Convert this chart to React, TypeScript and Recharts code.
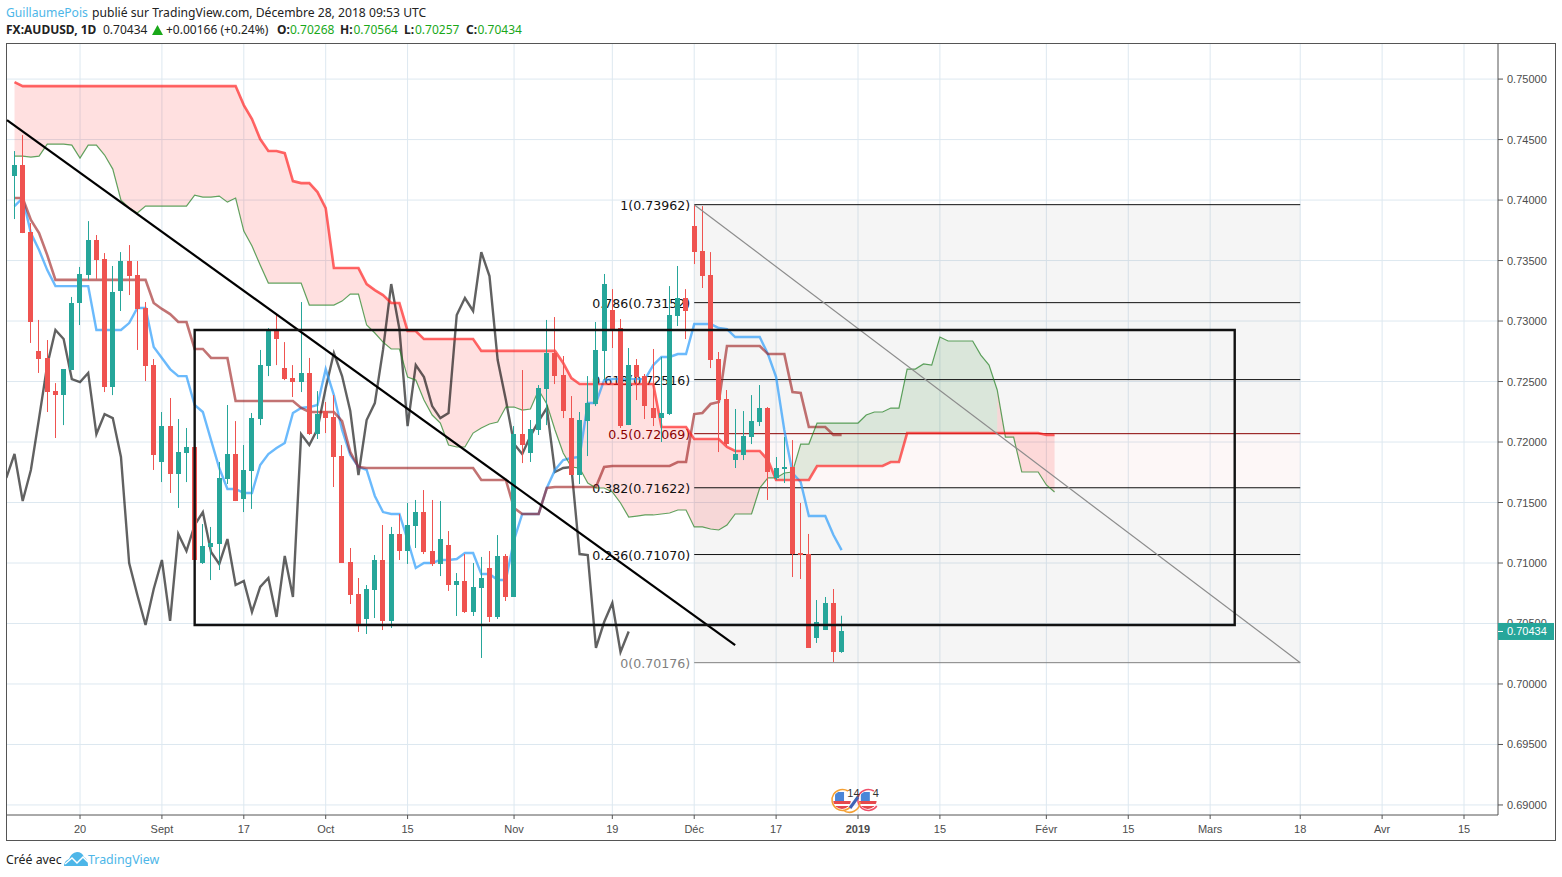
import {
  ComposedChart, Area, Bar, Line, XAxis, YAxis, CartesianGrid,
  ReferenceArea, ReferenceLine, ReferenceDot,
} from "recharts";

const opens = [
  0.74198, 0.74289, 0.73736, 0.72753, 0.72695, 0.72421, 0.72388, 0.72595, 0.73149, 0.73381,
  0.73669, 0.73513, 0.72454, 0.73248, 0.73496, 0.73381, 0.73108, 0.72636, 0.71835, 0.72132,
  0.71736, 0.71909, 0.71959, 0.71, 0.71132, 0.71157, 0.71694, 0.71901, 0.71529, 0.7176,
  0.7219, 0.72628, 0.72926, 0.72611, 0.72529, 0.72496, 0.72571, 0.72066, 0.72256, 0.72206,
  0.71884, 0.71008, 0.70744, 0.70537, 0.70777, 0.71025, 0.70521, 0.7124, 0.71099, 0.71306,
  0.71421, 0.71099, 0.70992, 0.71149, 0.70818, 0.70851, 0.70595, 0.70793, 0.70959, 0.70554,
  0.71058, 0.70719, 0.72066, 0.71909, 0.72099, 0.72438, 0.72736, 0.72554, 0.72198, 0.71727,
  0.72173, 0.72314, 0.72753, 0.73091, 0.72942, 0.7214, 0.72636, 0.72545, 0.72281, 0.72198,
  0.72231, 0.73041, 0.7319, 0.73785, 0.73578, 0.73381, 0.72686, 0.72355, 0.71851, 0.71892,
  0.72041, 0.72165, 0.72281, 0.71703, 0.71777, 0.71793, 0.71083, 0.71074, 0.7038, 0.70446,
  0.70669, 0.70268,
];
const highs = [
  0.74405, 0.74537, 0.7381, 0.73009, 0.72843, 0.72487, 0.72603, 0.73199, 0.73447, 0.73826,
  0.73711, 0.73562, 0.73455, 0.7357, 0.73628, 0.73496, 0.73157, 0.72686, 0.72248, 0.72364,
  0.7219, 0.72116, 0.72025, 0.71322, 0.71298, 0.71835, 0.72306, 0.72173, 0.71975, 0.7224,
  0.72761, 0.72942, 0.7305, 0.72826, 0.72636, 0.73157, 0.72695, 0.72421, 0.72331, 0.72388,
  0.71975, 0.71124, 0.70876, 0.70818, 0.71066, 0.71314, 0.71298, 0.71405, 0.71496, 0.71521,
  0.71603, 0.71521, 0.71512, 0.71264, 0.70917, 0.71074, 0.71, 0.7105, 0.71099, 0.71231,
  0.71074, 0.72132, 0.72595, 0.72182, 0.72471, 0.73009, 0.73033, 0.72711, 0.7238, 0.72248,
  0.72545, 0.72992, 0.73389, 0.73264, 0.73017, 0.72777, 0.72686, 0.72562, 0.72769, 0.72703,
  0.73289, 0.73455, 0.73264, 0.73959, 0.7395, 0.7357, 0.72744, 0.7243, 0.72273, 0.72256,
  0.72388, 0.72471, 0.72289, 0.71876, 0.72041, 0.72016, 0.71496, 0.7124, 0.70694, 0.70719,
  0.70785, 0.70564,
];
const lows = [
  0.73843, 0.73727, 0.72819, 0.72571, 0.72248, 0.72033, 0.7214, 0.72595, 0.72967, 0.7334,
  0.73348, 0.72413, 0.72388, 0.73083, 0.73215, 0.72761, 0.72504, 0.71769, 0.71669, 0.71579,
  0.71455, 0.71669, 0.71, 0.70992, 0.70859, 0.70942, 0.71653, 0.71512, 0.71421, 0.71447,
  0.7214, 0.72545, 0.72636, 0.72512, 0.72372, 0.72413, 0.72058, 0.72025, 0.72074, 0.71628,
  0.71, 0.70661, 0.7043, 0.70413, 0.70545, 0.70446, 0.70463, 0.71025, 0.70992, 0.71124,
  0.71074, 0.70975, 0.70892, 0.70769, 0.70562, 0.70587, 0.70562, 0.70215, 0.70512, 0.70537,
  0.70686, 0.70719, 0.71826, 0.71835, 0.72058, 0.7214, 0.72479, 0.72198, 0.71727, 0.71653,
  0.71884, 0.72297, 0.72512, 0.72777, 0.72116, 0.7214, 0.72347, 0.7219, 0.72132, 0.72,
  0.72223, 0.72959, 0.72851, 0.73471, 0.73273, 0.72611, 0.71917, 0.71967, 0.71785, 0.71851,
  0.71983, 0.72132, 0.71521, 0.71686, 0.71661, 0.70884, 0.70868, 0.70298, 0.70339, 0.70446,
  0.70182, 0.70257,
];
const closes = [
  0.74289, 0.73727, 0.72992, 0.72686, 0.72413, 0.72388, 0.72603, 0.73149, 0.73389, 0.73669,
  0.73504, 0.72454, 0.7324, 0.73496, 0.73372, 0.731, 0.72628, 0.71892, 0.72132, 0.71736,
  0.71917, 0.71959, 0.71025, 0.7114, 0.71165, 0.71703, 0.71901, 0.71512, 0.71769, 0.72198,
  0.72636, 0.72926, 0.72851, 0.7252, 0.72496, 0.72571, 0.72066, 0.72231, 0.72198, 0.71876,
  0.71, 0.70736, 0.70488, 0.70785, 0.71025, 0.70521, 0.7124, 0.71099, 0.71314, 0.71421,
  0.71091, 0.70992, 0.71198, 0.70818, 0.70851, 0.70595, 0.70802, 0.70876, 0.70554, 0.71058,
  0.70719, 0.72066, 0.71975, 0.72107, 0.72446, 0.72736, 0.72545, 0.72256, 0.71727, 0.72182,
  0.72322, 0.72761, 0.73306, 0.72934, 0.72132, 0.72636, 0.72537, 0.72297, 0.72198, 0.7224,
  0.7305, 0.7319, 0.73083, 0.7357, 0.73372, 0.72678, 0.72347, 0.71983, 0.71901, 0.72049,
  0.72173, 0.72281, 0.71752, 0.71785, 0.71793, 0.71074, 0.71066, 0.70298, 0.70512, 0.70669,
  0.70264, 0.70434,
];

const conversion = [
  0.7395, 0.74017, 0.73727, 0.73587, 0.73421, 0.73289, 0.73289, 0.73289, 0.73289, 0.73289,
  0.72926, 0.72926, 0.72926, 0.72926, 0.72983, 0.73108, 0.73108, 0.72785, 0.72695, 0.72603,
  0.72545, 0.72545, 0.72306, 0.72248, 0.72016, 0.71785, 0.71612, 0.71612, 0.71579, 0.71579,
  0.7181, 0.71901, 0.7195, 0.71992, 0.7224, 0.72281, 0.72289, 0.72306, 0.72603, 0.72388,
  0.72099, 0.71892, 0.71793, 0.71769, 0.71554, 0.71421, 0.71405, 0.71405, 0.7119, 0.70959,
  0.71, 0.71, 0.71025, 0.71025, 0.71033, 0.71083, 0.71083, 0.70909, 0.70909, 0.70859,
  0.70859, 0.7119, 0.71405, 0.71405, 0.71405, 0.7162, 0.71769, 0.71851, 0.71868, 0.71876,
  0.72322, 0.72322, 0.72512, 0.7252, 0.7252, 0.7252, 0.7252, 0.7252, 0.72636, 0.72703,
  0.72703, 0.72727, 0.72727, 0.72975, 0.72975, 0.72975, 0.72942, 0.72934, 0.72868, 0.72868,
  0.72868, 0.72868, 0.72727, 0.72537, 0.72099, 0.71744, 0.71669, 0.71388, 0.71388, 0.71388,
  0.71231, 0.71107,
];
const base = [
  0.74017, 0.74017, 0.73835, 0.73727, 0.73545, 0.7334, 0.7334, 0.7334, 0.7334, 0.7334,
  0.7334, 0.7334, 0.7334, 0.7334, 0.7334, 0.7334, 0.7334, 0.73149, 0.731, 0.73058,
  0.72992, 0.72992, 0.72769, 0.72769, 0.72695, 0.72695, 0.72695, 0.72339, 0.72339, 0.72339,
  0.72339, 0.72339, 0.72339, 0.72339, 0.72339, 0.72281, 0.72248, 0.72248, 0.72248, 0.72248,
  0.72173, 0.71917, 0.71793, 0.71785, 0.71785, 0.71785, 0.71785, 0.71785, 0.71785, 0.71785,
  0.71785, 0.71785, 0.71785, 0.71785, 0.71785, 0.71785, 0.71785, 0.71686, 0.71686, 0.71686,
  0.71686, 0.71455, 0.71405, 0.71405, 0.71405, 0.7162, 0.71628, 0.71628, 0.71628, 0.71628,
  0.71628, 0.71628, 0.71793, 0.71802, 0.71802, 0.71802, 0.71802, 0.71802, 0.71802, 0.71802,
  0.71802, 0.71835, 0.71835, 0.72231, 0.7224, 0.72314, 0.72331, 0.72794, 0.72794, 0.72794,
  0.72794, 0.72794, 0.72727, 0.72727, 0.72727, 0.72413, 0.72405, 0.72124, 0.72124, 0.72124,
  0.72058, 0.72058,
];
// starts one bar left of the first candle
const lagging = [
  0.71703, 0.71901, 0.71512, 0.71769, 0.72198, 0.72636, 0.72926, 0.72851, 0.7252, 0.72496,
  0.72571, 0.72066, 0.72231, 0.72198, 0.71876, 0.71, 0.70736, 0.70488, 0.70785, 0.71025,
  0.70521, 0.7124, 0.71099, 0.71314, 0.71421, 0.71091, 0.70992, 0.71198, 0.70818, 0.70851,
  0.70595, 0.70802, 0.70876, 0.70554, 0.71058, 0.70719, 0.72066, 0.71975, 0.72107, 0.72446,
  0.72736, 0.72545, 0.72256, 0.71727, 0.72182, 0.72322, 0.72761, 0.73306, 0.72934, 0.72132,
  0.72636, 0.72537, 0.72297, 0.72198, 0.7224, 0.7305, 0.7319, 0.73083, 0.7357, 0.73372,
  0.72678, 0.72347, 0.71983, 0.71901, 0.72049, 0.72173, 0.72281, 0.71752, 0.71785, 0.71793,
  0.71074, 0.71066, 0.70298, 0.70512, 0.70669, 0.70264, 0.70434,
];
const spanA = [
  0.74363, 0.74363, 0.74355, 0.74363, 0.74462, 0.74462, 0.74462, 0.74454, 0.74347, 0.74454,
  0.74454, 0.74372, 0.74256, 0.74, 0.73934, 0.73893, 0.7395, 0.7395, 0.7395, 0.7395,
  0.7395, 0.7395, 0.74041, 0.74025, 0.74025, 0.74033, 0.73983, 0.74017, 0.73744, 0.7362,
  0.73463, 0.73314, 0.73314, 0.73314, 0.73314, 0.73314, 0.73132, 0.73132, 0.73132, 0.73132,
  0.73165, 0.73223, 0.73223, 0.72967, 0.72901, 0.72826, 0.72769, 0.72769, 0.72537, 0.72512,
  0.72347, 0.72223, 0.72157, 0.71975, 0.71959, 0.71959, 0.72074, 0.72116, 0.72149, 0.72165,
  0.72289, 0.72289, 0.72264, 0.72273, 0.7243, 0.72314, 0.72099, 0.71909, 0.71793, 0.71785,
  0.71661, 0.7162, 0.7162, 0.71587, 0.71496, 0.7138, 0.71388, 0.71397, 0.71397, 0.71405,
  0.71413, 0.71438, 0.71438, 0.71298, 0.71298, 0.71281, 0.71273, 0.71314, 0.71405, 0.71405,
  0.71405, 0.7162, 0.71703, 0.71703, 0.71744, 0.71752, 0.71983, 0.71983, 0.72157, 0.72157,
  0.72157, 0.72157, 0.72157, 0.72157, 0.72223, 0.72248, 0.72248, 0.72281, 0.72281, 0.72603,
  0.72603, 0.72645, 0.72636, 0.72868, 0.72835, 0.72835, 0.72835, 0.72835, 0.72719, 0.72636,
  0.7243, 0.72041, 0.72041, 0.71752, 0.71752, 0.71752, 0.71645, 0.71587,
];
const spanB = [
  0.74975, 0.74942, 0.74942, 0.74942, 0.74942, 0.74942, 0.74942, 0.74942, 0.74942, 0.74942,
  0.74942, 0.74942, 0.74942, 0.74942, 0.74942, 0.74942, 0.74942, 0.74942, 0.74942, 0.74942,
  0.74942, 0.74942, 0.74942, 0.74942, 0.74942, 0.74942, 0.74942, 0.74942, 0.74785, 0.74669,
  0.74504, 0.74405, 0.74405, 0.74388, 0.74157, 0.7414, 0.7414, 0.74066, 0.73934, 0.73438,
  0.73438, 0.73438, 0.73438, 0.73306, 0.73256, 0.73215, 0.73149, 0.73149, 0.72918, 0.72918,
  0.72851, 0.72851, 0.72851, 0.72851, 0.72851, 0.72851, 0.72851, 0.72753, 0.72753, 0.72753,
  0.72753, 0.72753, 0.72753, 0.72753, 0.72753, 0.72753, 0.72753, 0.72653, 0.72529, 0.72479,
  0.72479, 0.72479, 0.72479, 0.72479, 0.72479, 0.72479, 0.72479, 0.72479, 0.72479, 0.72124,
  0.72124, 0.72124, 0.72124, 0.72025, 0.72025, 0.72025, 0.72025, 0.71959, 0.71926, 0.71926,
  0.71926, 0.71926, 0.71851, 0.71686, 0.71686, 0.71686, 0.71686, 0.71686, 0.71802, 0.71802,
  0.71802, 0.71802, 0.71802, 0.71802, 0.71802, 0.71802, 0.71802, 0.71835, 0.71835, 0.72074,
  0.72074, 0.72074, 0.72074, 0.72074, 0.72074, 0.72074, 0.72074, 0.72074, 0.72074, 0.72074,
  0.72074, 0.72074, 0.72074, 0.72074, 0.72074, 0.72074, 0.72058, 0.72058,
];

const priceTicks = [0.69, 0.695, 0.7, 0.705, 0.71, 0.715, 0.72, 0.725, 0.73, 0.735, 0.74, 0.745, 0.75];
const lastPrice = 0.70434;
const timeTicks = [8, 18, 28, 38, 48, 61, 73, 83, 93, 103, 113, 126, 136, 146, 157, 167, 177];
const timeLabels = ["20", "Sept", "17", "Oct", "15", "Nov", "19", "Déc", "17", "2019", "15", "Févr", "15", "Mars", "18", "Avr", "15"];

const fibLevels = [1, 0.786, 0.618, 0.5, 0.382, 0.236, 0];
const fibPrices = [0.73962, 0.73152, 0.72516, 0.72069, 0.71622, 0.7107, 0.70176];
const fibColors = ["#111", "#111", "#111", "#8a0000", "#111", "#111", "#808080"];

const UP = "#26A69A";
const DOWN = "#EF5350";
const FONT = "'Liberation Sans', Arial, sans-serif";
const TEXT_FONT = "'Noto Sans', sans-serif";

const rows = Array.from({ length: 129 }, (_, k) => {
  const i = k - 1;
  const hasBar = i >= 0 && i < opens.length;
  const a = spanA[i];
  const b = spanB[i];
  const hasCloud = i >= 0 && i < spanA.length;
  return {
    i,
    open: hasBar ? opens[i] : null,
    high: hasBar ? highs[i] : null,
    low: hasBar ? lows[i] : null,
    close: hasBar ? closes[i] : null,
    candle: hasBar ? [lows[i], highs[i]] : null,
    conversion: hasBar ? conversion[i] : null,
    base: hasBar ? base[i] : null,
    lagging: k < lagging.length ? lagging[k] : null,
    spanA: hasCloud ? a : null,
    spanB: hasCloud ? b : null,
    cloudDown: hasCloud && (i <= 93 || i >= 120) ? [a, b] : null,
    cloudUp: hasCloud && i >= 93 && i <= 120 ? [b, a] : null,
  };
});

function Candle(props: any) {
  const { x, y, width, height, payload } = props;
  if (payload.open == null) return null;
  const { open, close, high, low } = payload;
  const perUnit = height / (high - low);
  const color = close >= open ? UP : DOWN;
  const mid = Math.floor(x + width / 2 - 0.5) + 0.5;
  const top = Math.round(y + (high - Math.max(open, close)) * perUnit);
  const bottom = Math.round(y + (high - Math.min(open, close)) * perUnit);
  return (
    <g>
      <line x1={mid} x2={mid} y1={y} y2={y + height} stroke={color} strokeWidth={1} />
      <rect x={mid - 2.5} y={top} width={5} height={Math.max(bottom - top, 1)} fill={color} />
    </g>
  );
}

function PriceTick({ x, y, payload }: any) {
  if (payload.value === lastPrice) {
    return (
      <g>
        <rect x={1498} y={y - 8.5} width={56} height={17} fill={UP} />
        <line x1={1498} x2={1503} y1={y} y2={y} stroke="#fff" />
        <text x={x} y={y + 4} fontSize={11} fontFamily={FONT} fill="#fff">{payload.value.toFixed(5)}</text>
      </g>
    );
  }
  return (
    <text x={x} y={y + 4} fontSize={11} fontFamily={FONT} fill="#4c4c4c">{payload.value.toFixed(5)}</text>
  );
}

function TimeTick({ x, y, payload }: any) {
  const label = timeLabels[timeTicks.indexOf(payload.value)];
  return (
    <text x={x} y={y + 12} textAnchor="middle" fontSize={11} fontFamily={FONT}
      fontWeight={label === "2019" ? 700 : 400} fill="#4c4c4c">
      {label}
    </text>
  );
}

function EventFlag({ cx, cy, ring, id, arrow }: any) {
  return (
    <g>
      <clipPath id={id}><circle cx={cx} cy={cy} r={9} /></clipPath>
      <g clipPath={`url(#${id})`}>
        <rect x={cx - 10} y={cy - 10} width={20} height={20} fill="#fff" />
        <rect x={cx - 10} y={cy + 1} width={20} height={3} fill="#e5484d" />
        <rect x={cx - 10} y={cy + 6} width={20} height={3} fill="#e5484d" />
        <rect x={cx - 7} y={cy - 8} width={9} height={9} fill="#4a86d8" />
      </g>
      <path d={`M ${cx + 6} ${cy - 9} A 10.5 10.5 0 1 0 ${cx + 9} ${cy + 6}`} fill="none" stroke={ring} strokeWidth={1.5} />
      {arrow && <path d={`M ${cx + 1} ${cy + 10} A 10.5 10.5 0 0 0 ${cx + 18} ${cy + 2}`} fill="none" stroke={ring} strokeWidth={1.5} />}
      {arrow && <path d={`M ${cx + 8} ${cy + 8} L ${cx + 16} ${cy - 3}`} stroke="#3f63b5" strokeWidth={3} />}
    </g>
  );
}

function EventCount({ cx, cy, text }: any) {
  return <text x={cx} y={cy - 3} fontSize={11} fontFamily={FONT} fill="#333">{text}</text>;
}

export default function App() {
  const sans = { fontFamily: TEXT_FONT, fontSize: 12, position: "absolute" as const, whiteSpace: "nowrap" as const };
  const green = { ...sans, color: "#1aa81a" };
  const bold = { ...sans, color: "#222", fontWeight: 700 };
  return (
    <div style={{ position: "absolute", left: 0, top: 0, width: 1562, height: 877, background: "#fff" }}>
      <div style={{ position: "absolute", left: 6, top: 43, width: 1548, height: 796, border: "1px solid #555" }} />

      <span style={{ ...sans, left: 6, top: 4, color: "#4db6e8", fontSize: 12.15 }}>GuillaumePois</span>
      <span style={{ ...sans, left: 92, top: 4, color: "#222", fontSize: 12.15 }}>publié sur TradingView.com, Décembre 28, 2018 09:53 UTC</span>
      <span style={{ ...bold, left: 6, top: 21 }}>FX:AUDUSD, 1D</span>
      <span style={{ ...sans, left: 103, top: 21, color: "#222" }}>0.70434</span>
      <svg style={{ position: "absolute", left: 152, top: 25 }} width={11} height={10}><path d="M5.5 0 L11 10 L0 10 Z" fill="#1aa81a" /></svg>
      <span style={{ ...sans, left: 166, top: 21, color: "#222" }}>+0.00166 (+0.24%)</span>
      <span style={{ ...bold, left: 277, top: 21 }}>O:</span>
      <span style={{ ...green, left: 290, top: 21 }}>0.70268</span>
      <span style={{ ...bold, left: 340, top: 21 }}>H:</span>
      <span style={{ ...green, left: 353.5, top: 21 }}>0.70564</span>
      <span style={{ ...bold, left: 404, top: 21 }}>L:</span>
      <span style={{ ...green, left: 415, top: 21 }}>0.70257</span>
      <span style={{ ...bold, left: 466, top: 21 }}>C:</span>
      <span style={{ ...green, left: 477.5, top: 21 }}>0.70434</span>

      <ComposedChart
        width={1562}
        height={877}
        data={rows}
        margin={{ top: 44, right: 8, bottom: 36, left: 7 }}
        style={{ position: "absolute", left: 0, top: 0 }}
      >
        <CartesianGrid stroke="#dde8f0" horizontalValues={priceTicks} verticalValues={timeTicks} />
        <XAxis
          dataKey="i"
          type="number"
          domain={[-0.916, 181.15]}
          allowDataOverflow
          ticks={timeTicks}
          interval={0}
          height={26}
          tick={<TimeTick />}
          tickSize={4}
          axisLine={{ stroke: "#555" }}
          tickLine={{ stroke: "#555" }}
        />
        <YAxis
          orientation="right"
          type="number"
          domain={[0.68917, 0.7529]}
          allowDataOverflow
          ticks={[...priceTicks, lastPrice]}
          interval={0}
          width={56}
          tick={<PriceTick />}
          tickSize={5}
          tickMargin={4}
          axisLine={{ stroke: "#555" }}
          tickLine={{ stroke: "#555" }}
        />

        <ReferenceArea x1={83} x2={157} y1={0.72069} y2={0.73962} fill="#808080" fillOpacity={0.08} stroke="none" />
        <ReferenceArea x1={83} x2={157} y1={0.71622} y2={0.72069} fill="#e07070" fillOpacity={0.06} stroke="none" />
        <ReferenceArea x1={83} x2={157} y1={0.70176} y2={0.71622} fill="#808080" fillOpacity={0.08} stroke="none" />

        <Area dataKey="cloudDown" stroke="none" fill="#ff0000" fillOpacity={0.12} isAnimationActive={false} connectNulls={false} />
        <Area dataKey="cloudUp" stroke="none" fill="#1b7a1b" fillOpacity={0.12} isAnimationActive={false} connectNulls={false} />

        {fibPrices.map((p, k) => (
          <ReferenceLine
            key={p}
            zIndex={150}
            segment={[{ x: 83, y: p }, { x: 157, y: p }]}
            stroke={fibColors[k]}
            strokeWidth={1}
            label={{
              value: `${fibLevels[k]}(${p.toFixed(5)})`,
              position: "left",
              offset: 4,
              dy: 1,
              zIndex: 150,
              fill: fibColors[k],
              fontSize: 12.6,
              fontFamily: "'DejaVu Sans', sans-serif",
            }}
          />
        ))}

        <Line dataKey="lagging" stroke="#000" strokeOpacity={0.62} strokeWidth={2.4} dot={false} isAnimationActive={false} />
        <Line dataKey="conversion" stroke="#2c9dfb" strokeOpacity={0.7} strokeWidth={2.4} dot={false} isAnimationActive={false} />
        <Line dataKey="base" stroke="#991515" strokeOpacity={0.6} strokeWidth={2.6} dot={false} isAnimationActive={false} />
        <Line dataKey="spanA" stroke="#1f7f1f" strokeOpacity={0.7} strokeWidth={1.2} dot={false} isAnimationActive={false} />
        <Line dataKey="spanB" stroke="#ff1f1f" strokeOpacity={0.68} strokeWidth={2.6} dot={false} isAnimationActive={false} />

        <Bar dataKey="candle" barSize={5} shape={<Candle />} isAnimationActive={false} zIndex={450} />

        <ReferenceLine zIndex={500} segment={[{ x: 83, y: 0.73962 }, { x: 157, y: 0.70176 }]} stroke="#8c8c8c" strokeWidth={1.2} />
        <ReferenceLine zIndex={500} segment={[{ x: -0.916, y: 0.74661 }, { x: 88, y: 0.70322 }]} stroke="#000" strokeWidth={2.2} />
        <ReferenceArea zIndex={500} x1={22} x2={149} y1={0.70488} y2={0.72926} fill="none" stroke="#111" strokeWidth={2.4} fillOpacity={0} />

        <ReferenceDot x={101.05} y={0.69041} r={0} zIndex={600} shape={(p: any) => <EventFlag {...p} ring="#f5a033" id="flagA" arrow />} />
        <ReferenceDot x={104.2} y={0.69041} r={0} zIndex={590} shape={(p: any) => <EventFlag {...p} ring="#f0506a" id="flagB" />} />
        <ReferenceDot x={101.7} y={0.69041} r={0} zIndex={610} shape={(p: any) => <EventCount {...p} text="14" />} />
        <ReferenceDot x={104.8} y={0.69041} r={0} zIndex={610} shape={(p: any) => <EventCount {...p} text="4" />} />
      </ComposedChart>

      <span style={{ ...sans, left: 6, top: 851, color: "#222", fontSize: 12.3 }}>Créé avec</span>
      <svg style={{ position: "absolute", left: 64, top: 851 }} width={24} height={16}>
        <path d="M0 15 Q0 10 5 8 Q7 2 13 1 Q18 1 20 6 Q24 8 24 15 Z" fill="#4db6e8" />
        <path d="M1 13 L8 7 L13 12 L19 6 L24 11" fill="none" stroke="#fff" strokeWidth={1.5} />
      </svg>
      <span style={{ ...sans, left: 88, top: 851, color: "#4db6e8", fontSize: 12.4 }}>TradingView</span>
    </div>
  );
}
